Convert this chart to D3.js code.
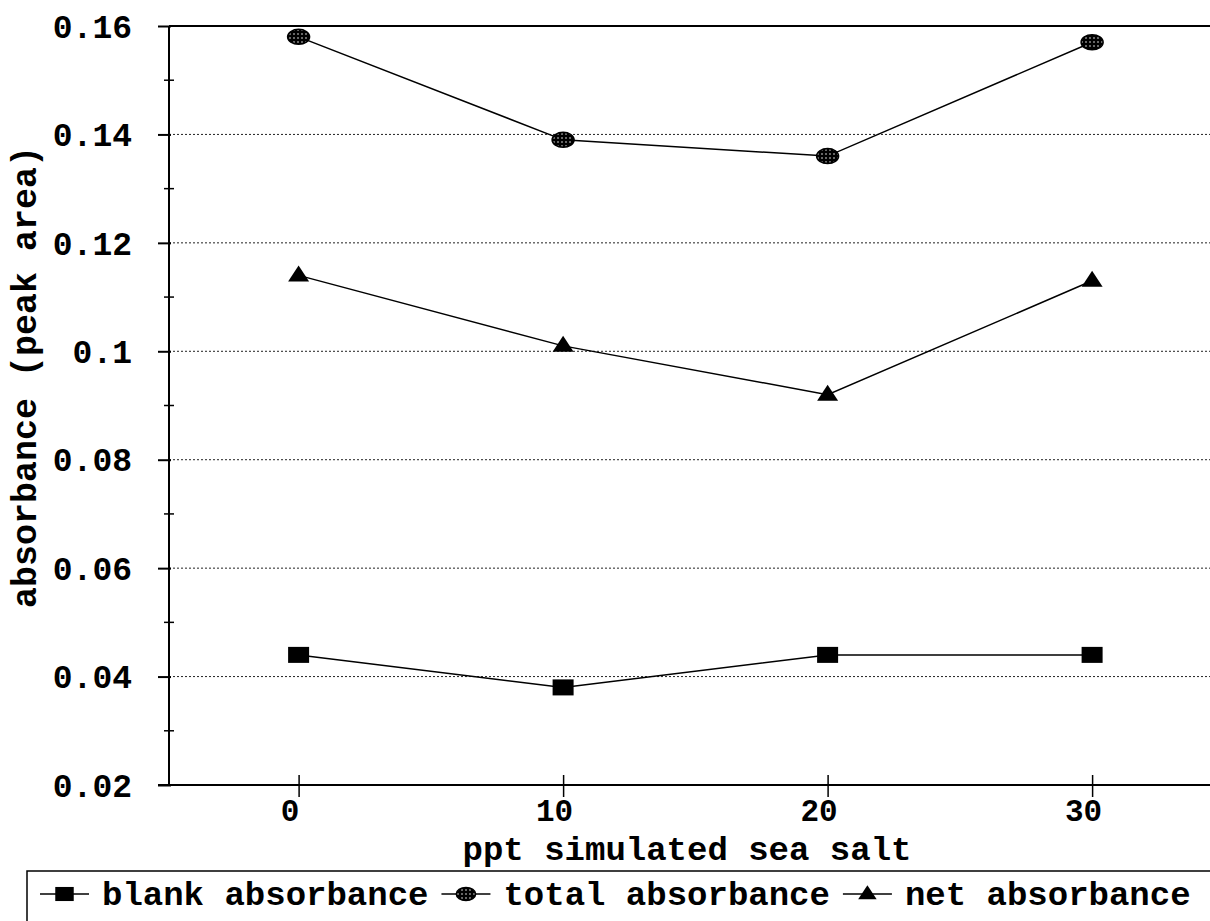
<!DOCTYPE html>
<html>
<head>
<meta charset="utf-8">
<script src="https://cdn.jsdelivr.net/npm/d3@7"></script>
<style>
  html, body { margin: 0; padding: 0; background: #fff; }
  svg { display: block; }
</style>
</head>
<body>
<script>
// ---- data ----
const salt = [0, 10, 20, 30];
const blankAbs = [0.044, 0.038, 0.044, 0.044];
const totalAbs = [0.158, 0.139, 0.136, 0.157];
const netAbs = [0.114, 0.101, 0.092, 0.113];
const yTickValues = [0.02, 0.04, 0.06, 0.08, 0.1, 0.12, 0.14, 0.16];
const yTickLabels = ["0.02", "0.04", "0.06", "0.08", "0.1", "0.12", "0.14", "0.16"];
const yMinorTicks = [0.03, 0.05, 0.07, 0.09, 0.11, 0.13, 0.15];
const xTickValues = [0, 10, 20, 30];
const xTickLabels = ["0", "10", "20", "30"];
const seriesNames = ["blank absorbance", "total absorbance", "net absorbance"];
const xTitle = "ppt simulated sea salt";
const yTitle = "absorbance (peak area)";

const W = 1210, H = 921;
const svg = d3.select("body").append("svg").attr("width", W).attr("height", H);

const defs = svg.append("defs");
const pat = defs.append("pattern").attr("id", "stip").attr("patternUnits", "userSpaceOnUse")
  .attr("width", 4).attr("height", 4);
pat.append("rect").attr("width", 4).attr("height", 4).attr("fill", "#000");
pat.append("circle").attr("cx", 2).attr("cy", 2).attr("r", 0.75).attr("fill", "#fff");

const x = d3.scaleLinear().domain([-4.9, 35]).range([169, 169 + 39.9 * 26.45]);
const y = d3.scaleLinear().domain([0.02, 0.16]).range([785, 26]);

const mono = "'Liberation Mono', 'DejaVu Sans Mono', monospace";

// gridlines
svg.append("g").selectAll("line").data(yTickValues.filter(v => v > 0.02 && v < 0.16)).join("line")
  .attr("x1", 169).attr("x2", W).attr("y1", d => y(d)).attr("y2", d => y(d))
  .attr("stroke", "#222").attr("stroke-width", 1).attr("stroke-dasharray", "2,2");

// top frame line
svg.append("line").attr("x1", 169).attr("x2", W).attr("y1", y(0.16)).attr("y2", y(0.16))
  .attr("stroke", "#000").attr("stroke-width", 2);

// y axis
const yAxis = d3.axisLeft(y).tickValues(yTickValues).tickFormat((d, i) => yTickLabels[i])
  .tickSize(11).tickPadding(26);
const gy = svg.append("g").attr("transform", "translate(169,0)").call(yAxis);
gy.select(".domain").attr("stroke-width", 2).attr("d", `M0,${y(0.16)}V${y(0.02)}`);
gy.selectAll(".tick line").attr("stroke-width", 2).attr("x2", -11).attr("x1", 2);
gy.selectAll(".tick text").attr("font-family", mono).attr("font-weight", "bold")
  .attr("font-size", 33).attr("fill", "#000").attr("dy", "0.34em");
svg.append("g").selectAll("line").data(yMinorTicks).join("line")
  .attr("x1", 164).attr("x2", 174).attr("y1", d => y(d)).attr("y2", d => y(d))
  .attr("stroke", "#000").attr("stroke-width", 1.5);

// x axis
const xAxis = d3.axisBottom(x).tickValues(xTickValues).tickFormat((d, i) => xTickLabels[i])
  .tickSize(12).tickPadding(6);
const gx = svg.append("g").attr("transform", `translate(0,${y(0.02)})`).call(xAxis);
gx.select(".domain").attr("stroke-width", 2).attr("d", `M158,0H${W}`);
gx.selectAll(".tick line").attr("stroke-width", 1.5).attr("y1", -10).attr("y2", 12);
gx.selectAll(".tick text").attr("font-family", mono).attr("font-weight", "bold")
  .attr("font-size", 31).attr("fill", "#000").attr("dx", -9).attr("y", 36).attr("dy", 0);

// axis titles
svg.append("text").attr("x", 687).attr("y", 860).attr("text-anchor", "middle")
  .attr("font-family", mono).attr("font-weight", "bold").attr("font-size", 34).attr("fill", "#000")
  .text(xTitle);
svg.append("text").attr("transform", "translate(36,377) rotate(-90)").attr("text-anchor", "middle")
  .attr("font-family", mono).attr("font-weight", "bold").attr("font-size", 35).attr("fill", "#000")
  .text(yTitle);

// marker drawing
function drawMarker(g, kind, cx, cy, s) {
  if (kind === 0) {
    g.append("rect").attr("x", cx - 10.5 * s).attr("y", cy - 8 * s)
      .attr("width", 21 * s).attr("height", 16 * s).attr("fill", "#000");
  } else if (kind === 1) {
    g.append("ellipse").attr("cx", cx).attr("cy", cy).attr("rx", 11 * s).attr("ry", 7.5 * s)
      .attr("fill", "url(#stip)").attr("stroke", "#000").attr("stroke-width", 1.5);
  } else {
    g.append("path").attr("d", `M${cx},${cy - 10 * s}L${cx + 10.5 * s},${cy + 6 * s}L${cx - 10.5 * s},${cy + 6 * s}Z`)
      .attr("fill", "#000");
  }
}

const series = [blankAbs, totalAbs, netAbs];
const line = d3.line().x((d, i) => x(salt[i])).y(d => y(d));
series.forEach((vals, k) => {
  const g = svg.append("g");
  g.append("path").attr("d", line(vals)).attr("fill", "none").attr("stroke", "#000").attr("stroke-width", 1.5);
  vals.forEach((v, i) => drawMarker(g, k, x(salt[i]), y(v), 1));
});

// legend
const lg = svg.append("g");
lg.append("path").attr("d", `M27,${H + 5}V871H${W}`).attr("fill", "none").attr("stroke", "#000").attr("stroke-width", 1.5);
let cursor = 40;
const legY = 894;
seriesNames.forEach((name, k) => {
  lg.append("line").attr("x1", cursor).attr("x2", cursor + 49).attr("y1", legY).attr("y2", legY)
    .attr("stroke", "#000").attr("stroke-width", 1.6);
  drawMarker(lg, k, cursor + 24.5, legY, 0.88);
  const t = lg.append("text").attr("x", cursor + 62).attr("y", legY + 11)
    .attr("font-family", mono).attr("font-weight", "bold").attr("font-size", 34).attr("fill", "#000")
    .text(name);
  const w = t.node().getComputedTextLength();
  cursor = cursor + 62 + w + 13;
});
</script>
</body>
</html>
